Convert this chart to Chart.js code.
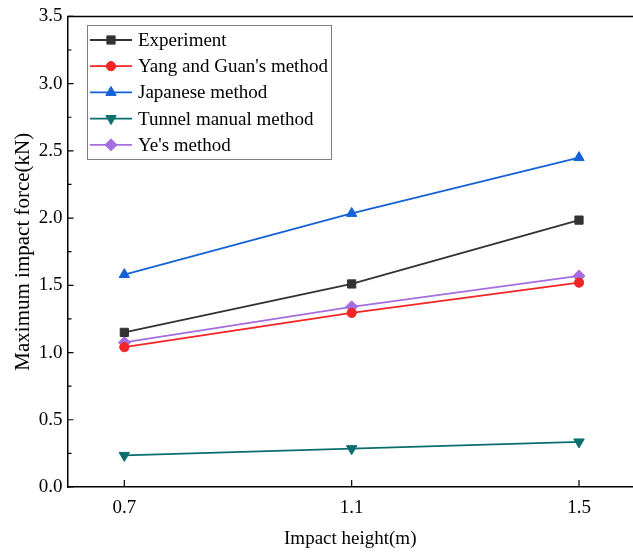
<!DOCTYPE html>
<html>
<head>
<meta charset="utf-8">
<script src="https://cdn.jsdelivr.net/npm/chart.js@4/dist/chart.umd.min.js"></script>
<style>
  html, body { margin: 0; padding: 0; background: #fff; }
  #wrap { width: 633px; height: 553px; position: relative; }
</style>
</head>
<body>
<div id="wrap"><canvas id="c" width="633" height="553"></canvas></div>
<script>
// Impact heights (m)
const heights = [0.7, 1.1, 1.5];
// Maximum impact force (kN) per method
const experiment = [1.15, 1.51, 1.985];
const yangGuan = [1.04, 1.295, 1.52];
const japanese = [1.58, 2.035, 2.45];
const tunnelManual = [0.235, 0.285, 0.335];
const yeMethod = [1.075, 1.34, 1.57];
// Axis ticks
const yTicks = [0, 0.5, 1.0, 1.5, 2.0, 2.5, 3.0, 3.5];
const yMinorTicks = [0.25, 0.75, 1.25, 1.75, 2.25, 2.75, 3.25];
const xTicks = [0.7, 1.1, 1.5];

const SERIF = '"Liberation Serif", "Times New Roman", serif';

function pts(vals) { return heights.map((h, i) => ({ x: h, y: vals[i] })); }

function series(label, vals, color, style, radius, rotation) {
  return {
    label, data: pts(vals),
    borderColor: color, backgroundColor: color,
    pointBackgroundColor: color, pointBorderColor: color,
    borderWidth: 1.8, pointStyle: style, pointRadius: radius,
    pointHoverRadius: radius, pointRotation: rotation || 0,
    pointBorderWidth: 1, tension: 0
  };
}

const datasets = [
  series('Experiment', experiment, '#333333', 'rect', 5.8),
  series("Yang and Guan's method", yangGuan, '#f52525', 'circle', 4.6),
  series('Japanese method', japanese, '#1462d6', 'triangle', 6),
  series('Tunnel manual method', tunnelManual, '#0b6e6e', 'triangle', 6, 180),
  series("Ye's method", yeMethod, '#a56ee0', 'rectRot', 6)
];

// Inward tick marks, top frame line and boxed legend
const framePlugin = {
  id: 'frame',
  afterDraw(chart) {
    const ctx = chart.ctx, a = chart.chartArea;
    const xs = chart.scales.x, ys = chart.scales.y;
    ctx.save();
    ctx.strokeStyle = '#000';
    ctx.lineWidth = 1.5;
    ctx.beginPath();
    ctx.moveTo(a.left, a.top); ctx.lineTo(chart.width, a.top);
    ctx.stroke();
    ctx.lineWidth = 1.2;
    ctx.beginPath();
    yTicks.forEach(v => { const y = ys.getPixelForValue(v); ctx.moveTo(a.left, y); ctx.lineTo(a.left + 6, y); });
    yMinorTicks.forEach(v => { const y = ys.getPixelForValue(v); ctx.moveTo(a.left, y); ctx.lineTo(a.left + 4, y); });
    xTicks.forEach(v => { const x = xs.getPixelForValue(v); ctx.moveTo(x, a.bottom); ctx.lineTo(x, a.bottom - 7); });
    ctx.stroke();

    // legend
    const bx = 87, by = 25, bw = 244, bh = 134;
    ctx.strokeStyle = '#808080';
    ctx.lineWidth = 1;
    ctx.strokeRect(bx + 0.5, by + 0.5, bw, bh);
    ctx.font = '19px ' + SERIF;
    ctx.textBaseline = 'middle';
    ctx.textAlign = 'left';
    chart.data.datasets.forEach((ds, i) => {
      const y = 40 + i * 26.2;
      ctx.strokeStyle = ds.borderColor;
      ctx.lineWidth = 1.8;
      ctx.beginPath(); ctx.moveTo(90, y); ctx.lineTo(132, y); ctx.stroke();
      ctx.fillStyle = ds.pointBackgroundColor;
      ctx.strokeStyle = ds.pointBorderColor;
      ctx.lineWidth = 1;
      Chart.helpers.drawPoint(ctx, { pointStyle: ds.pointStyle, radius: ds.pointRadius, rotation: ds.pointRotation, borderWidth: 1 }, 111, y);
      ctx.fillStyle = '#000';
      ctx.fillText(ds.label, 138, y + 1);
    });
    ctx.restore();
  }
};

new Chart(document.getElementById('c'), {
  type: 'line',
  data: { datasets },
  plugins: [framePlugin],
  options: {
    responsive: false,
    animation: false,
    events: [],
    layout: { autoPadding: false, padding: { left: 11, top: 15, right: 0, bottom: 3 } },
    plugins: { legend: { display: false }, tooltip: { enabled: false } },
    scales: {
      x: {
        type: 'linear', min: 0.6, max: 1.595,
        afterBuildTicks(scale) { scale.ticks = xTicks.map(v => ({ value: v })); },
        afterFit(scale) { scale.height = 63; scale.paddingLeft = 0; scale.paddingRight = 0; },
        grid: { display: false, drawTicks: false },
        border: { display: true, color: '#000', width: 1.5 },
        ticks: { color: '#000', font: { family: SERIF, size: 19 }, padding: 10, maxRotation: 0,
                 callback: v => v.toFixed(1) },
        title: { display: true, text: 'Impact height(m)', color: '#000',
                 font: { family: SERIF, size: 19 }, padding: { top: 0, bottom: 0 } }
      },
      y: {
        type: 'linear', min: 0, max: 3.5,
        afterBuildTicks(scale) { scale.ticks = yTicks.map(v => ({ value: v })); },
        afterFit(scale) { scale.width = 56.5; },
        grid: { display: false, drawTicks: false },
        border: { display: true, color: '#000', width: 1.5 },
        ticks: { color: '#000', font: { family: SERIF, size: 19 }, padding: 5,
                 callback: v => v.toFixed(1) },
        title: { display: true, text: 'Maximum impact force(kN)', color: '#000',
                 font: { family: SERIF, size: 21 }, padding: { top: 0, bottom: 0 } }
      }
    }
  }
});
</script>
</body>
</html>
